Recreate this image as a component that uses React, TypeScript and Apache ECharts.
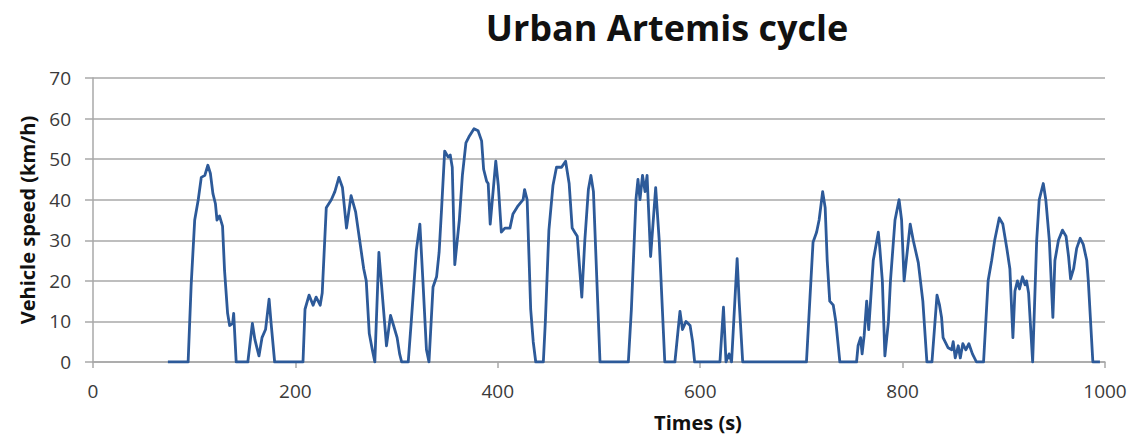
import React, { useEffect, useRef } from "react";
import * as echarts from "echarts";

const chartTitle = "Urban Artemis cycle";
const xAxisTitle = "Times (s)";
const yAxisTitle = "Vehicle speed (km/h)";

const xTicks = { min: 0, max: 1000, interval: 200 };
const yTicks = { min: 0, max: 70, interval: 10 };

// [time (s), speed (km/h)]
const speedTrace: [number, number][] = [
  [74, 0], [94, 0], [97, 19], [100.5, 35], [104, 40], [107, 45.5], [110.5, 46], [113.5, 48.5], [116, 46.5],
  [118.5, 41.5], [121, 39], [122.5, 35], [125, 36], [128, 33.5], [130, 22.5], [133, 12], [135, 9], [138, 9.5],
  [139, 12], [141.5, 0], [153, 0], [157.5, 9.5], [160, 5.5], [162, 3.5], [164, 1.5], [167, 6], [170.5, 8],
  [174, 15.5], [176, 9.5], [179.5, 0], [207.5, 0], [209.5, 13], [213.5, 16.5], [217.5, 14], [220.5, 16],
  [224.5, 14], [226.5, 17], [230.5, 38], [235.5, 40], [239, 42], [243, 45.5], [246.5, 43], [250.5, 33],
  [255, 41], [259.5, 37], [263.5, 30], [267.5, 23], [270, 20], [273, 7], [276, 3], [278.5, 0], [282.5, 27],
  [290, 4], [294, 11.5], [297, 9], [300.5, 6], [303, 2], [305, 0], [311.5, 0], [314.5, 10], [319.5, 27.5],
  [323, 34], [326, 20], [329.5, 3], [332, 0], [336, 18.5], [339.5, 21], [342, 27], [344.5, 38], [347.5, 52],
  [351, 50.5], [353, 51], [355, 48], [357.5, 24], [362, 35], [365, 46], [368.5, 54], [371.5, 55.5],
  [376.5, 57.5], [380.5, 57], [384, 54.5], [386, 47.5], [389, 44.5], [390.5, 44], [392.5, 34], [398, 49.5],
  [400.5, 43.5], [403.5, 32], [407, 33], [412, 33], [415, 36.5], [420, 38.5], [425, 40], [426.5, 42.5],
  [429, 40], [432.5, 13], [435, 5], [437.5, 0], [445, 0], [447, 10], [450.5, 32.5], [454.5, 43.5], [458, 48],
  [463, 48], [467, 49.5], [470.5, 44], [473.5, 33], [476, 32], [478.5, 31], [483, 16], [486, 30],
  [489.5, 42.5], [492, 46], [494.5, 42], [501, 0], [529, 0], [532, 13], [536.5, 40], [538.5, 45],
  [540.5, 40], [543, 46], [545.5, 42], [547.5, 46], [551, 26], [556, 43], [559.5, 30], [565, 0], [575, 0],
  [580, 12.5], [582.5, 8], [586, 10], [590, 9], [592.5, 5], [594.5, 0], [619.5, 0], [623, 13.5], [625.5, 0],
  [628.5, 2], [631, 0], [636.5, 25.5], [638.5, 15], [642, 0], [705, 0], [708.5, 16], [711.5, 29.5],
  [715, 32], [717.5, 35], [721, 42], [723.5, 38], [725.5, 25], [728, 15], [731.5, 14], [734, 10], [738, 0],
  [754.5, 0], [756, 4], [758.5, 6], [760, 2], [762, 6.5], [764.5, 15], [766.5, 8], [771, 25], [776, 32],
  [777.5, 28], [780, 20], [782.5, 1.5], [786, 10], [788, 20], [792.5, 35], [796.5, 40], [799, 35],
  [801.5, 20], [807.5, 34], [810.5, 30], [815.5, 24.5], [820, 15], [824, 0], [829, 0], [834, 16.5],
  [836.5, 14], [838.5, 11], [840, 6], [845, 3.5], [848.5, 3], [850, 5], [852, 1], [855, 4], [857, 1],
  [859.5, 4.5], [862.5, 3], [865.5, 4.5], [869, 2], [873, 0], [880, 0], [884.5, 20], [888, 25], [891, 30],
  [895.5, 35.5], [899, 34], [903, 28], [906, 23], [909, 6], [911, 17.5], [913.5, 20], [915.5, 18],
  [918.5, 21], [921, 19], [922.5, 20], [924.5, 17], [928.5, 0], [932.5, 30], [935, 40], [939, 44],
  [941.5, 40], [945, 30], [948.5, 11], [950.5, 25], [954, 30], [958, 32.5], [961.5, 31], [964, 26],
  [966, 20.5], [969, 23], [972, 28], [975.5, 30.5], [978.5, 29], [982, 25], [983.5, 20], [988, 0], [995, 0],
];

const FONT = '"Open Sans", "Noto Sans", sans-serif';

export default function App() {
  const ref = useRef<HTMLDivElement>(null);

  useEffect(() => {
    if (!ref.current) return;
    const chart = echarts.init(ref.current, null, { renderer: "svg" });
    const gridColor = "#a8a8a8";
    chart.setOption({
      animation: false,
      backgroundColor: "#ffffff",
      grid: { left: 93, top: 78, width: 1012, height: 284, containLabel: false },
      xAxis: {
        type: "value",
        min: xTicks.min,
        max: xTicks.max,
        interval: xTicks.interval,
        axisLine: { show: true, lineStyle: { color: gridColor, width: 1.5 } },
        axisTick: { show: true, length: 6, lineStyle: { color: gridColor, width: 1.5 } },
        axisLabel: {
          margin: 19,
          fontSize: 19,
          color: "#3a3a3a",
          fontFamily: FONT,
          formatter: (v: number) => String(v),
        },
        splitLine: { show: false },
      },
      yAxis: {
        type: "value",
        min: yTicks.min,
        max: yTicks.max,
        interval: yTicks.interval,
        axisLine: { show: true, lineStyle: { color: gridColor, width: 1.5 } },
        axisTick: { show: true, length: 8, lineStyle: { color: gridColor, width: 1.5 } },
        axisLabel: {
          margin: 22,
          fontSize: 19,
          color: "#3a3a3a",
          fontFamily: FONT,
          formatter: (v: number) => String(v),
        },
        splitLine: { show: true, lineStyle: { color: gridColor, width: 1.5 } },
      },
      series: [
        {
          type: "line",
          data: speedTrace,
          symbol: "none",
          showSymbol: false,
          lineStyle: { color: "#2d5a99", width: 2.8, join: "round" },
        },
      ],
      graphic: [
        {
          type: "text",
          x: 667,
          y: 27,
          style: {
            text: chartTitle,
            font: `bold 36px ${FONT}`,
            fill: "#111",
            textAlign: "center",
            textVerticalAlign: "middle",
          },
        },
        {
          type: "text",
          x: 27,
          y: 220,
          rotation: Math.PI / 2,
          style: {
            text: yAxisTitle,
            font: `bold 20px ${FONT}`,
            fill: "#111",
            textAlign: "center",
            textVerticalAlign: "middle",
          },
        },
        {
          type: "text",
          x: 698,
          y: 422,
          style: {
            text: xAxisTitle,
            font: `bold 20px ${FONT}`,
            fill: "#111",
            textAlign: "center",
            textVerticalAlign: "middle",
          },
        },
      ],
    });
    return () => chart.dispose();
  }, []);

  return (
    <div
      ref={ref}
      style={{ position: "fixed", left: 0, top: 0, width: 1132, height: 437, background: "#fff" }}
    />
  );
}
